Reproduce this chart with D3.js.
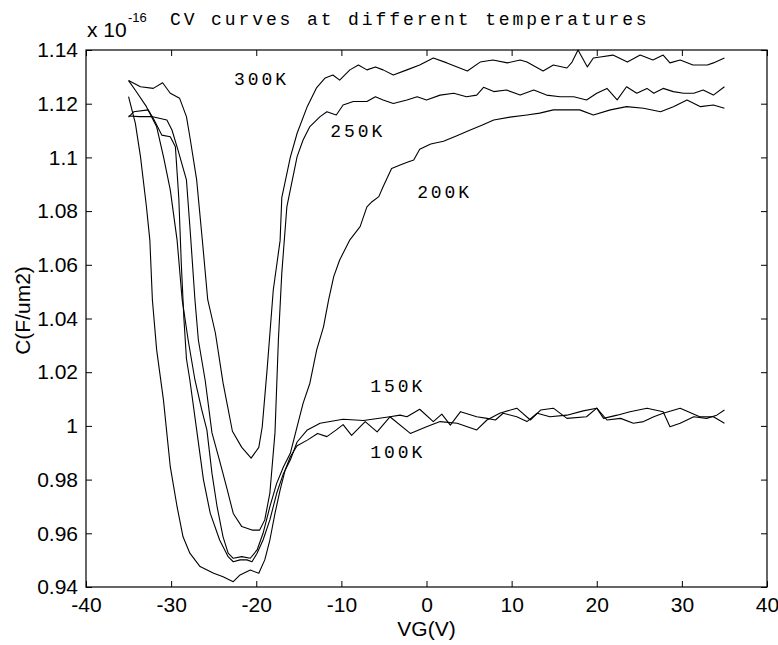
<!DOCTYPE html>
<html>
<head>
<meta charset="utf-8">
<script src="https://cdn.jsdelivr.net/npm/d3@7"></script>
<style>
  body { margin: 0; background: #fff; }
  svg { display: block; background: #fff; }
  .tick text { font-family: "Liberation Sans", Arial, sans-serif; font-size: 21px; fill: #000; }
  .tick line { stroke: #000; stroke-width: 1; }
  .mono { font-family: "Liberation Mono", "Courier New", monospace; font-size: 18px; letter-spacing: 2.9px; fill: #000; }
  .sans { font-family: "Liberation Sans", Arial, sans-serif; fill: #000; }
  .curve { fill: none; stroke: #000; stroke-width: 1.1; stroke-linejoin: round; }
</style>
</head>
<body>
<svg id="chart" width="778" height="645"></svg>
<script>
// VG (V) on x, C in units of 1e-16 F/um2 on y
const vgTicks = [-40, -30, -20, -10, 0, 10, 20, 30, 40];
const cTicks = [0.94, 0.96, 0.98, 1, 1.02, 1.04, 1.06, 1.08, 1.1, 1.12, 1.14];

const curveNames = ['300K', '250K', '200K', '150K', '100K'];

const cv300K = [
  [-35.0, 1.1286], [-33.6, 1.1263], [-32.1, 1.1257], [-31.0, 1.1278], [-30.1, 1.1239],
  [-29.0, 1.1220], [-28.2, 1.1152], [-27.8, 1.1077], [-27.0, 1.0916], [-26.3, 1.0680],
  [-25.7, 1.0470], [-24.8, 1.0346], [-23.9, 1.0160], [-22.8, 0.9980], [-21.7, 0.9920],
  [-20.6, 0.9880], [-19.7, 0.9920], [-19.3, 0.9996], [-18.7, 1.0220], [-18.0, 1.0506],
  [-17.2, 1.0690], [-17.0, 1.0850], [-16.0, 1.1000], [-15.2, 1.1090], [-14.0, 1.1190],
  [-12.9, 1.1260], [-11.9, 1.1296], [-11.0, 1.1307], [-10.2, 1.1288], [-9.0, 1.1326],
  [-8.0, 1.1344], [-7.0, 1.1326], [-6.0, 1.1337], [-5.1, 1.1326], [-3.9, 1.1307],
  [-2.3, 1.1326], [-0.8, 1.1344], [0.8, 1.1370], [2.4, 1.1352], [4.8, 1.1322],
  [6.3, 1.1355], [7.8, 1.1363], [9.5, 1.1352], [11.0, 1.1363], [11.8, 1.1355],
  [13.7, 1.1322], [14.9, 1.1344], [16.5, 1.1333], [17.1, 1.1355], [17.8, 1.1400],
  [18.9, 1.1337], [19.6, 1.1370], [20.4, 1.1374], [21.9, 1.1381], [23.6, 1.1355],
  [25.1, 1.1381], [26.6, 1.1363], [27.8, 1.1381], [28.6, 1.1352], [29.8, 1.1363],
  [31.3, 1.1344], [33.0, 1.1344], [33.7, 1.1352], [35.0, 1.1370]
];

const cv250K = [
  [-35.0, 1.1154], [-33.7, 1.1152], [-32.3, 1.1152], [-30.5, 1.1139], [-29.9, 1.1102],
  [-29.2, 1.1028], [-28.2, 1.0916], [-27.7, 1.0700], [-27.2, 1.0469], [-26.8, 1.0320],
  [-26.0, 1.0170], [-25.2, 0.9974], [-24.3, 0.9870], [-23.5, 0.9774], [-22.7, 0.9674],
  [-21.7, 0.9625], [-20.5, 0.9612], [-19.6, 0.9612], [-19.0, 0.9650], [-18.4, 0.9750],
  [-17.8, 0.9974], [-17.4, 1.0320], [-17.0, 1.0569], [-16.4, 1.0817], [-16.0, 1.0879],
  [-15.2, 1.1003], [-14.5, 1.1065], [-13.7, 1.1115], [-12.5, 1.1152], [-11.7, 1.1170],
  [-10.6, 1.1158], [-9.8, 1.1195], [-8.6, 1.1208], [-7.0, 1.1208], [-6.0, 1.1226],
  [-5.1, 1.1214], [-3.9, 1.1201], [-2.3, 1.1214], [-1.1, 1.1226], [0.0, 1.1214],
  [1.6, 1.1232], [3.2, 1.1239], [4.7, 1.1226], [5.9, 1.1232], [6.7, 1.1261],
  [7.9, 1.1245], [9.4, 1.1251], [11.0, 1.1232], [12.6, 1.1251], [14.1, 1.1232],
  [15.7, 1.1226], [17.3, 1.1226], [18.8, 1.1214], [20.0, 1.1239], [21.2, 1.1257],
  [22.4, 1.1214], [23.5, 1.1263], [24.7, 1.1239], [25.9, 1.1257], [26.7, 1.1239],
  [27.8, 1.1257], [29.0, 1.1245], [30.2, 1.1239], [31.4, 1.1239], [32.5, 1.1251],
  [33.7, 1.1232], [35.0, 1.1263]
];

const cv200K = [
  [-35.0, 1.1286], [-34.2, 1.1250], [-32.9, 1.1189], [-31.7, 1.1114], [-30.9, 1.1003],
  [-30.1, 1.0879], [-29.3, 1.0692], [-28.7, 1.0470], [-28.0, 1.0320], [-27.2, 1.0171],
  [-26.4, 1.0060], [-25.8, 0.9985], [-25.2, 0.9823], [-24.6, 0.9699], [-23.9, 0.9587],
  [-23.3, 0.9526], [-22.7, 0.9507], [-21.7, 0.9513], [-20.7, 0.9507], [-19.9, 0.9538],
  [-19.2, 0.9600], [-18.4, 0.9699], [-17.6, 0.9786], [-16.8, 0.9848], [-16.0, 0.9898],
  [-15.4, 0.9972], [-14.5, 1.0084], [-13.7, 1.0159], [-12.9, 1.0283], [-12.1, 1.0369],
  [-11.5, 1.0469], [-10.9, 1.0556], [-10.2, 1.0618], [-9.0, 1.0693], [-7.8, 1.0742],
  [-7.0, 1.0816], [-6.4, 1.0835], [-5.6, 1.0854], [-5.1, 1.0891], [-4.1, 1.0959],
  [-3.1, 1.0972], [-2.1, 1.0984], [-1.5, 1.0990], [-0.8, 1.1030], [0.5, 1.1050],
  [2.0, 1.1060], [3.5, 1.1080], [5.0, 1.1100], [6.5, 1.1120], [7.9, 1.1139],
  [9.8, 1.1150], [11.8, 1.1158], [13.3, 1.1165], [14.9, 1.1177], [16.5, 1.1177],
  [18.0, 1.1177], [19.6, 1.1158], [21.6, 1.1177], [23.5, 1.1189], [25.5, 1.1183],
  [27.5, 1.1170], [29.0, 1.1189], [30.6, 1.1214], [32.2, 1.1189], [33.7, 1.1195],
  [35.0, 1.1183]
];

const cv150K = [
  [-35.0, 1.1150], [-34.4, 1.1170], [-32.7, 1.1177], [-32.1, 1.1146], [-31.1, 1.1083],
  [-30.1, 1.1077], [-29.5, 1.1040], [-29.1, 1.0850], [-28.8, 1.0600], [-28.5, 1.0400],
  [-28.2, 1.0250], [-27.8, 1.0171], [-27.0, 0.9985], [-26.2, 0.9799], [-25.4, 0.9674],
  [-24.3, 0.9575], [-23.3, 0.9513], [-22.7, 0.9494], [-21.9, 0.9501], [-21.1, 0.9501],
  [-20.5, 0.9494], [-19.9, 0.9526], [-19.2, 0.9575], [-18.4, 0.9650], [-17.6, 0.9749],
  [-16.8, 0.9823], [-16.0, 0.9873], [-15.2, 0.9940], [-14.0, 0.9985], [-12.5, 1.0010],
  [-9.8, 1.0025], [-7.4, 1.0020], [-4.3, 1.0034], [-3.1, 1.0040], [-2.3, 1.0034],
  [-0.8, 1.0062], [0.8, 1.0016], [1.8, 1.0044], [2.8, 1.0003], [4.0, 1.0053],
  [5.9, 1.0034], [7.1, 1.0028], [8.1, 1.0022], [9.0, 1.0047], [10.6, 1.0034],
  [11.8, 1.0016], [13.0, 1.0047], [14.5, 1.0034], [16.5, 1.0040], [18.4, 1.0056],
  [20.0, 1.0066], [20.8, 1.0028], [22.4, 1.0040], [23.9, 1.0053], [25.9, 1.0066],
  [27.8, 1.0053], [28.6, 0.9997], [29.8, 1.0010], [31.4, 1.0034], [32.9, 1.0028],
  [34.1, 1.0040], [35.0, 1.0059]
];

const cv100K = [
  [-35.0, 1.1226], [-34.2, 1.1127], [-33.6, 1.1003], [-32.9, 1.0816], [-32.5, 1.0692],
  [-32.2, 1.0469], [-31.7, 1.0283], [-30.9, 1.0096], [-30.1, 0.9848], [-29.3, 0.9699],
  [-28.6, 0.9587], [-27.8, 0.9526], [-26.6, 0.9476], [-25.0, 0.9451], [-23.9, 0.9438],
  [-22.7, 0.9420], [-21.9, 0.9445], [-20.7, 0.9463], [-19.7, 0.9451], [-19.0, 0.9501],
  [-18.4, 0.9575], [-17.8, 0.9674], [-17.2, 0.9761], [-16.6, 0.9836], [-16.0, 0.9885],
  [-15.2, 0.9926], [-14.0, 0.9947], [-12.8, 0.9972], [-11.7, 0.9960], [-10.6, 0.9985],
  [-9.8, 1.0005], [-8.8, 0.9965], [-7.2, 1.0016], [-5.8, 0.9978], [-4.3, 1.0034],
  [-1.9, 0.9972], [0.0, 0.9997], [1.6, 1.0016], [3.6, 1.0010], [5.9, 0.9985],
  [7.1, 1.0022], [8.6, 1.0047], [10.6, 1.0066], [12.2, 1.0022], [13.4, 1.0059],
  [14.9, 1.0066], [16.5, 1.0028], [18.8, 1.0034], [20.0, 1.0066], [21.2, 1.0022],
  [22.8, 1.0028], [24.3, 1.0010], [25.5, 1.0016], [26.7, 1.0034], [27.8, 1.0047],
  [29.8, 1.0066], [32.1, 1.0034], [33.7, 1.0034], [35.0, 1.0010]
];

// where each temperature label sits, in data units (VG, C)
const labelAnchors = [[-22.6, 1.127], [-11.3, 1.1076], [-1.1, 1.0849], [-6.6, 1.0127], [-6.6, 0.9880]];

class CVChart {
  constructor(_config, _series) {
    this.config = {
      parentElement: d3.select(_config.parentElementSelector),
      margin: _config.margin || { top: 50, right: 11, bottom: 58, left: 86 },
    };
    this.series = _series;
    this.initVis();
  }

  initVis() {
    const svg = this.config.parentElement;
    const m = this.config.margin;
    this.width = +svg.attr('width') - m.left - m.right;
    this.height = +svg.attr('height') - m.top - m.bottom;

    this.xScale = d3.scaleLinear().domain([-40, 40]).range([0, this.width]);
    this.yScale = d3.scaleLinear().domain([0.94, 1.14]).range([this.height, 0]);

    this.chart = svg.append('g').attr('transform', `translate(${m.left},${m.top})`);

    // matlab style: ticks point inward on all four sides
    this.chart.append('g')
      .attr('transform', `translate(0,${this.height})`)
      .call(d3.axisBottom(this.xScale).tickValues(vgTicks).tickSizeInner(-6).tickSizeOuter(0)
        .tickPadding(10).tickFormat((d) => String(d)));
    this.chart.append('g')
      .call(d3.axisTop(this.xScale).tickValues(vgTicks).tickSizeInner(-6).tickSizeOuter(0).tickFormat(''));
    this.chart.append('g')
      .call(d3.axisLeft(this.yScale).tickValues(cTicks).tickSizeInner(-6).tickSizeOuter(0)
        .tickPadding(8).tickFormat((d) => String(+d.toFixed(2))));
    this.chart.append('g')
      .attr('transform', `translate(${this.width},0)`)
      .call(d3.axisRight(this.yScale).tickValues(cTicks).tickSizeInner(-6).tickSizeOuter(0).tickFormat(''));
    this.chart.selectAll('.domain').remove();

    this.chart.append('rect')
      .attr('width', this.width)
      .attr('height', this.height)
      .attr('fill', 'none')
      .attr('stroke', '#000')
      .attr('stroke-width', 1.2);

    // titles
    svg.append('text').attr('class', 'mono').attr('x', 170).attr('y', 25)
      .text('CV curves at different temperatures');
    svg.append('text').attr('class', 'sans').attr('x', 87).attr('y', 37)
      .style('font-size', '21px').text('x 10');
    svg.append('text').attr('class', 'sans').attr('x', 128).attr('y', 22)
      .style('font-size', '13px').text('-16');
    svg.append('text').attr('class', 'sans')
      .attr('x', m.left + this.width / 2).attr('y', 636)
      .attr('text-anchor', 'middle').style('font-size', '21px').text('VG(V)');
    svg.append('text').attr('class', 'sans')
      .attr('transform', `translate(30,${m.top + this.height / 2 - 8}) rotate(-90)`)
      .attr('text-anchor', 'middle').style('font-size', '21px').text('C(F/um2)');

    this.updateVis();
  }

  updateVis() {
    const line = d3.line()
      .x((d) => this.xScale(d[0]))
      .y((d) => this.yScale(d[1]));

    this.chart.append('g').attr('class', 'data-group')
      .selectAll('path')
      .data(this.series)
      .join('path')
      .attr('class', 'curve')
      .attr('d', (d) => line(d.values));

    this.chart.append('g')
      .selectAll('text')
      .data(this.series)
      .join('text')
      .attr('class', 'mono')
      .attr('x', (d) => this.xScale(d.anchor[0]))
      .attr('y', (d) => this.yScale(d.anchor[1]))
      .text((d) => d.name);
  }
}

const allCurves = [cv300K, cv250K, cv200K, cv150K, cv100K];
const series = curveNames.map((name, i) => ({ name, values: allCurves[i], anchor: labelAnchors[i] }));

new CVChart({ parentElementSelector: '#chart' }, series);
</script>
</body>
</html>
